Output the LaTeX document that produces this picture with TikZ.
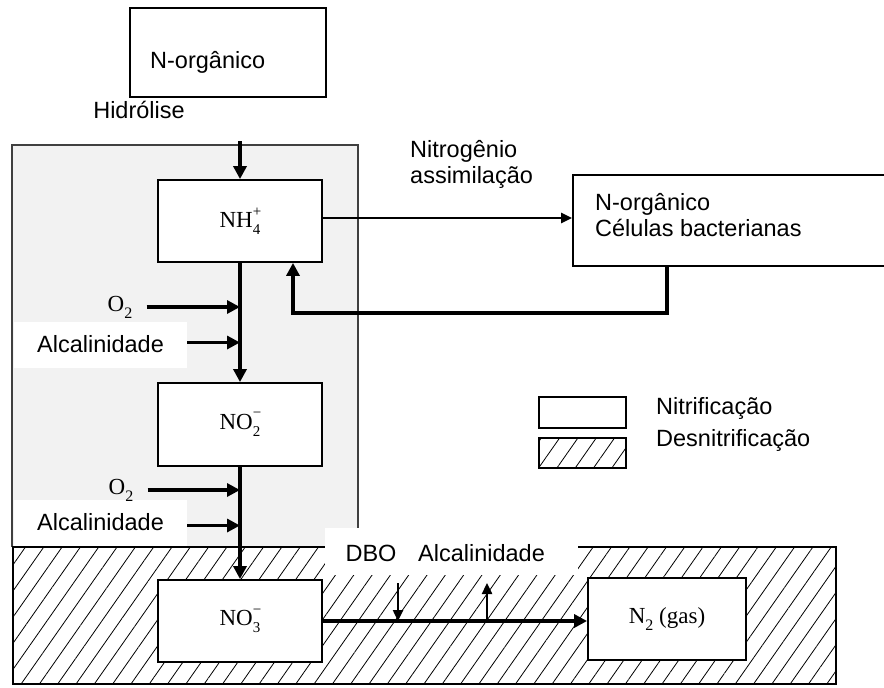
\documentclass[tikz,border=0pt]{standalone}
\usepackage{fontspec}
\setmainfont{Liberation Serif}
\newfontfamily\labelfont{Liberation Sans}
\usetikzlibrary{positioning, arrows.meta, patterns.meta, calc}

% ion with stacked sub- and superscript
\newcommand{\chemion}[3]{#1\makebox[0pt][l]{\raisebox{0.5em}{\fontsize{15}{15}\selectfont#3}}\raisebox{-0.3em}{\fontsize{15}{15}\selectfont#2}}
\newcommand{\chemsub}[2]{#1\raisebox{-0.3em}{\fontsize{16}{16}\selectfont#2}}

\begin{document}
\begin{tikzpicture}[x=1pt, y=-1pt,
    box/.style={rectangle, draw, line width=1.8pt, fill=white, minimum width=164pt, minimum height=82pt, inner sep=0pt, font=\fontsize{23}{26}\selectfont},
    lbl/.style={font=\labelfont\fontsize{23.5}{26}\selectfont, inner sep=0pt},
    chem/.style={font=\fontsize{23}{26}\selectfont, inner sep=0pt},
    labelbg/.style={lbl, fill=white, minimum width=173pt, minimum height=46pt},
    flow/.style={line width=3.2pt, -{Triangle[length=13pt, width=13pt]}},
    thinflow/.style={line width=2.4pt, -{Triangle[length=11pt, width=10pt]}},
    hatch/.style={pattern={Lines[angle=55, distance=15pt, line width=0.8pt]}},
    zone/.style={draw, line width=1.6pt}
]
\useasboundingbox (0,0) rectangle (884,688);

% zones
\fill[gray!10] (12,145) rectangle (358,547);
\draw[zone, draw=black!75] (12,547) |- (358,145) -- (358,547);
\draw[zone, hatch] (13,547) rectangle (836,684);

% label backgrounds
\node[labelbg] (alk1) at (100.5,344.5) {Alcalinidade};
\node[labelbg] (alk2) at (100.5,522.5) {Alcalinidade};
\node[fill=white, minimum width=253pt, minimum height=47pt, inner sep=0pt] (dbobg) at (451.5,551.5) {};
\node[lbl] (dbo) at (371,553) {DBO};
\node[lbl] (alk3) at (481.5,553) {Alcalinidade};

% boxes
\node[box, minimum width=196pt, minimum height=89pt] (top) at (228,52.5) {};
\node[lbl, anchor=west] (toptxt) at (150,62) {N-orgânico};
\node[lbl] (hydro) at (139,110) {Hidrólise};
\node[box] (nh4) at (240,221) {\chemion{NH}{4}{+}};
\node[box, minimum height=83pt] (no2) at (240,424.5) {\chemion{NO}{2}{−}};
\node[box] (no3) at (240,621) {\chemion{NO}{3}{−}};
\node[box, minimum width=158pt] (n2) at (667,619) {\chemsub{N}{2} (gas)};
\node[box, minimum width=327pt, minimum height=91pt] (cells) at (736.5,220.5) {};
\node[lbl, anchor=west, align=left] (cellstxt) at (595,215) {N-orgânico\\Células bacterianas};
\node[lbl, anchor=west, align=left] (assim) at (410,164.5) {Nitrogênio\\assimilação};

% inputs
\node[chem] (o2a) at (120,307) {\chemsub{O}{2}};
\node[chem] (o2b) at (121,490) {\chemsub{O}{2}};

% legend
\node[box, minimum width=87pt, minimum height=31pt] (nitri) at (582.5,412.5) {};
\node[box, hatch, minimum width=87pt, minimum height=30pt] (desni) at (582.5,453) {};
\node[lbl, anchor=west] (nitritxt) at (656,408) {Nitrificação};
\node[lbl, anchor=west] (desnitxt) at (656,440) {Desnitrificação};

% connectors
\coordinate (hydin) at (240,141);
\draw[flow] (hydin) -- (nh4.north);
\draw[flow] (nh4.south) -- (no2.north);
\draw[flow] (no2.south) -- (no3.north);
\draw[flow] ([xshift=14pt]o2a.east) -- (o2a.east -| no2.north);
\draw[flow] ([yshift=2pt]alk1.east) -- ([yshift=2pt]alk1.east -| no2.north);
\draw[flow] ([xshift=14pt]o2b.east) -- (o2b.east -| no2.north);
\draw[flow] ([yshift=-3pt]alk2.east) -- ([yshift=-3pt]alk2.east -| no2.north);
\draw[flow] (no3.east) -- (no3.east -| n2.west);
\coordinate (dbotop) at (398,583);
\coordinate (alkout) at (487,583);
\draw[thinflow] (dbotop) -- (dbotop |- no3.east);
\draw[thinflow] (alkout |- no3.east) -- (alkout);
\draw[thinflow] ([yshift=3pt]nh4.east) -- ([yshift=3pt]nh4.east -| cells.west);
\coordinate (retstart) at (667,266);
\coordinate (retcorner) at (293,313);
\draw[flow] (retstart) |- (retcorner) -- (retcorner |- nh4.south);
\end{tikzpicture}
\end{document}
